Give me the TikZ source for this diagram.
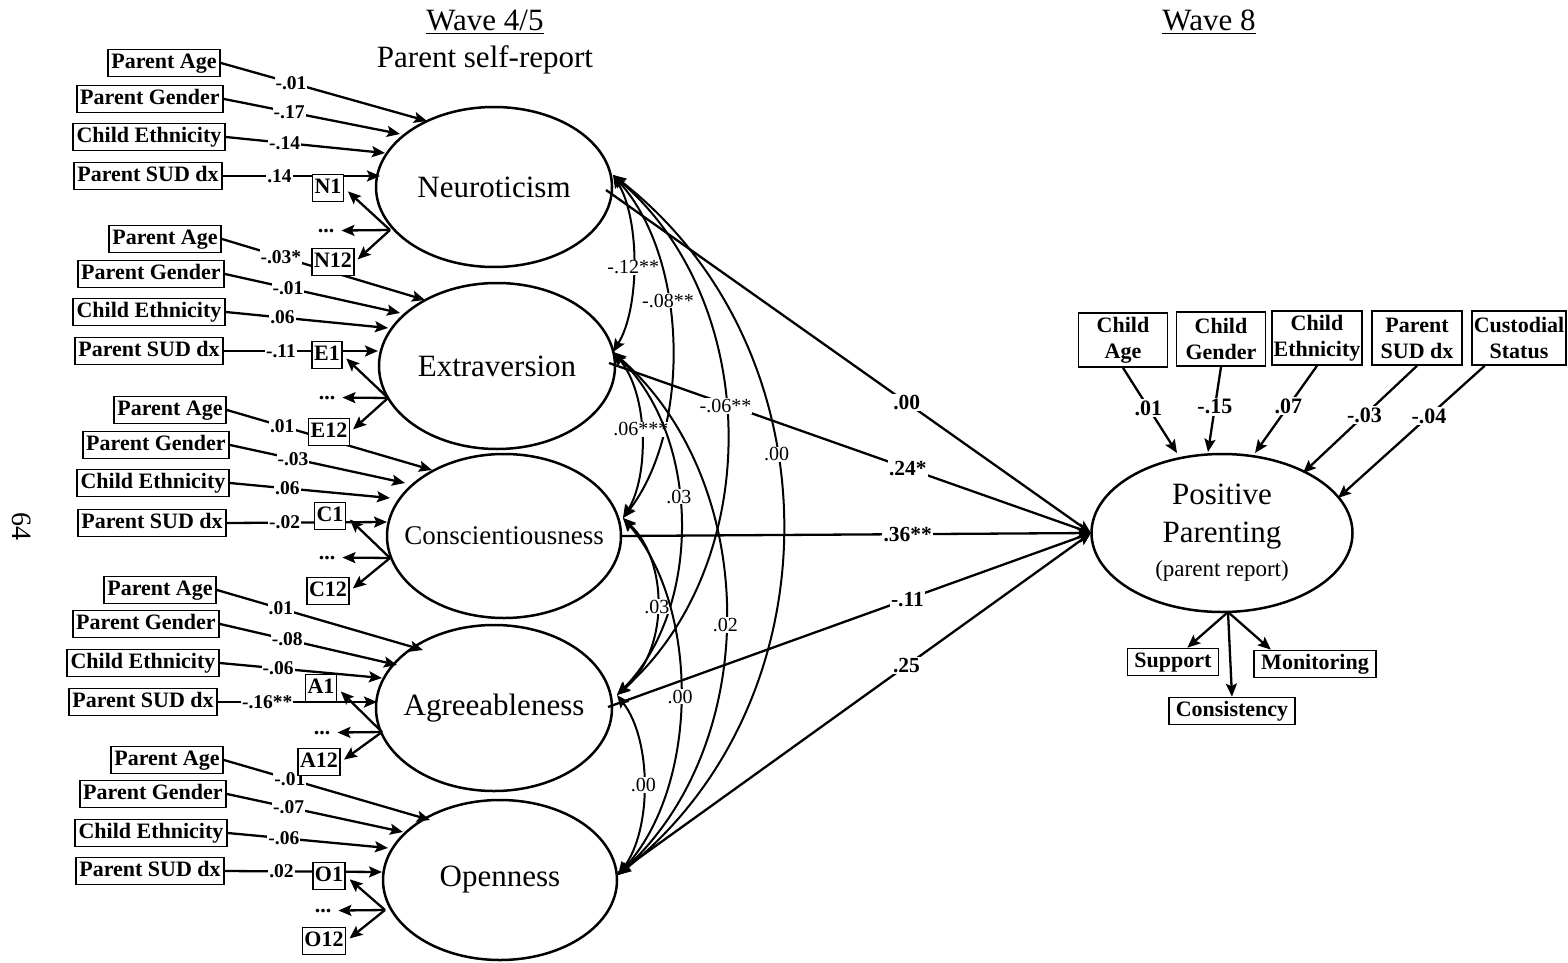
\documentclass[tikz,border=0pt]{standalone}
\usepackage{fontspec}
\setmainfont{Liberation Serif}
\usetikzlibrary{arrows.meta,shapes.geometric}
\pgfdeclarelayer{background}
\pgfsetlayers{background,main}
\tikzset{
  arr/.style={line width=2.3pt, -{Stealth[length=13pt,width=11pt,inset=2.5pt]}},
  dar/.style={line width=2pt, {Stealth[length=13pt,width=11pt,inset=2.5pt]}-{Stealth[length=13pt,width=11pt,inset=2.5pt]}},
  lat/.style={ellipse, draw, line width=2.5pt, inner sep=0pt},
  box/.style={draw, line width=1.6pt, fill=white, font=\bfseries\fontsize{22}{26}\selectfont, inner xsep=3.5pt, inner ysep=1.8pt, text height=17pt, text depth=6.5pt},
  ind/.style={box, inner xsep=2pt},
  dots/.style={font=\bfseries\fontsize{22}{26}\selectfont, inner xsep=7pt, inner ysep=0pt, anchor=base},
  rbox/.style={draw, line width=1.6pt, fill=white, font=\bfseries\fontsize{22}{26}\selectfont, align=center, minimum height=54pt, inner xsep=1.5pt, inner ysep=1pt},
  pbox/.style={box, inner xsep=7pt},
  coef/.style={font=\bfseries\fontsize{19.5}{21}\selectfont, fill=white, inner sep=1pt},
  corr/.style={font=\fontsize{20}{22}\selectfont, fill=white, inner sep=1pt},
  pcoef/.style={font=\bfseries\fontsize{21.5}{24}\selectfont, fill=white, inner sep=1.5pt},
  rcoef/.style={font=\bfseries\fontsize{22}{24}\selectfont, fill=white, inner sep=1.5pt},
  ttl/.style={font=\fontsize{31}{36}\selectfont, anchor=base},
  bigf/.style={font=\fontsize{31}{36}\selectfont},
}
\begin{document}
\begin{tikzpicture}[x=1pt,y=-1pt]
\useasboundingbox (0,0) rectangle (1568,963);

% titles
\node[ttl] (w45) at (485,31) {\underline{Wave 4/5}};
\node[ttl] (psr) at (485,68) {Parent self-report};
\node[ttl] (w8) at (1209,31) {\underline{Wave 8}};
\node[font=\fontsize{28}{30}\selectfont, rotate=-90] (pgno) at (22,526) {64};

% latent variables
\node[lat, bigf, minimum width=236pt, minimum height=160pt] (N) at (494,187) {\makebox[0pt]{Neuroticism}};
\node[lat, bigf, minimum width=236pt, minimum height=166pt] (E) at (497,366) {\makebox[0pt]{Extraversion}};
\node[lat, font=\fontsize{27}{32}\selectfont, minimum width=234pt, minimum height=164pt] (C) at (504,536) {\makebox[0pt]{Conscientiousness}};
\node[lat, bigf, minimum width=236pt, minimum height=166pt] (A) at (494,708) {\makebox[0pt]{Agreeableness}};
\node[lat, bigf, minimum width=234pt, minimum height=160pt] (O) at (500,880) {\makebox[0pt]{Openness}};
\node[lat, minimum width=261pt, minimum height=158pt, align=center, font=\fontsize{31}{38}\selectfont] (PP) at (1222,533)
  {Positive\\Parenting\\[-4pt]{\fontsize{23}{28}\selectfont (parent report)}};

% ---- covariate boxes, left ----
\node[box] (nA) at (164,63) {Parent Age};
\node[box] (nG) at (150,99) {Parent Gender};
\node[box] (nE) at (149,137) {Child Ethnicity};
\node[box] (nS) at (148,176) {Parent SUD dx};
\node[ind] (n1) at (328,188) {N1};
\node[dots] (nd) at (326,232) {...};
\node[ind] (n12) at (333,262) {N12};

\node[box] (eA) at (165,239) {Parent Age};
\node[box] (eG) at (151,274) {Parent Gender};
\node[box] (eE) at (149,312) {Child Ethnicity};
\node[box] (eS) at (149,351) {Parent SUD dx};
\node[ind] (e1) at (327,355) {E1};
\node[dots] (ed) at (327,399) {...};
\node[ind] (e12) at (329,432) {E12};

\node[box] (cA) at (170,410) {Parent Age};
\node[box] (cG) at (156,445) {Parent Gender};
\node[box] (cE) at (153,483) {Child Ethnicity};
\node[box] (cS) at (152,523) {Parent SUD dx};
\node[ind] (c1) at (330,516) {C1};
\node[dots] (cd) at (327,559) {...};
\node[ind] (c12) at (328,591) {C12};

\node[box] (aA) at (160,590) {Parent Age};
\node[box] (aG) at (146,624) {Parent Gender};
\node[box] (aE) at (143,663) {Child Ethnicity};
\node[box] (aS) at (143,702) {Parent SUD dx};
\node[ind] (a1) at (321,688) {A1};
\node[dots] (ad) at (322,734) {...};
\node[ind] (a12) at (319,762) {A12};

\node[box] (oA) at (167,760) {Parent Age};
\node[box] (oG) at (153,794) {Parent Gender};
\node[box] (oE) at (151,833) {Child Ethnicity};
\node[box] (oS) at (150,871) {Parent SUD dx};
\node[ind] (o1) at (329,876) {O1};
\node[dots] (od) at (323,912) {...};
\node[ind] (o12) at (324,941) {O12};

% ---- right covariates ----
\node[rbox, minimum width=89pt] (rCA) at (1123,340) {Child\\Age};
\node[rbox, minimum width=89pt] (rCG) at (1221,339) {Child\\Gender};
\node[rbox, minimum width=90pt] (rCE) at (1317,338) {Child\\Ethnicity};
\node[rbox, minimum width=90pt] (rPS) at (1417,338) {Parent\\SUD dx};
\node[rbox, minimum width=94pt] (rCS) at (1519,338) {Custodial\\Status};

\node[pbox] (sup) at (1173,662) {Support};
\node[pbox] (mon) at (1315,664) {Monitoring};
\node[pbox] (cons) at (1232,711) {Consistency};

% ---- named points ----
\coordinate (tnA) at (427,121); \coordinate (tnG) at (400,134); \coordinate (tnE) at (385,153); \coordinate (tnS) at (380,176);
\coordinate (teA) at (425,300); \coordinate (teG) at (400,313); \coordinate (teE) at (388,328); \coordinate (teS) at (378,351);
\coordinate (tcA) at (432,470); \coordinate (tcG) at (405,483); \coordinate (tcE) at (390,498); \coordinate (tcS) at (387,522);
\coordinate (taA) at (423,650); \coordinate (taG) at (397,665); \coordinate (taE) at (382,678); \coordinate (taS) at (377,702);
\coordinate (toA) at (430,820); \coordinate (toG) at (403,832); \coordinate (toE) at (388,848); \coordinate (toS) at (382,872);
\coordinate (qN) at (390,230); \coordinate (qE) at (388,398); \coordinate (qC) at (390,558); \coordinate (qA) at (382,732); \coordinate (qO) at (385,910);
\coordinate (pN) at (613,175); \coordinate (pE) at (613,352); \coordinate (pC) at (623,518); \coordinate (pA) at (617,695); \coordinate (pO) at (618,875);
\coordinate (sN) at (606,190); \coordinate (sE) at (609,363); \coordinate (sC) at (621,536); \coordinate (sA) at (608,707); \coordinate (sO) at (618,873);
\coordinate (pL) at (1091,533);
\coordinate (tCA) at (1177,453); \coordinate (tCG) at (1208,452); \coordinate (tCE) at (1255,453); \coordinate (tPS) at (1303,473); \coordinate (tCS) at (1338,498);
\coordinate (ppB) at (1228,612);

\begin{pgfonlayer}{background}
% N
\draw[arr] (nA.east) -- node[coef,pos=.34]{-.01} (tnA);
\draw[arr] (nG.east) -- node[coef,pos=.37]{-.17} (tnG);
\draw[arr] (nE.east) -- node[coef,pos=.37]{-.14} (tnE);
\draw[arr] (nS.east) -- node[coef,pos=.36]{.14} (tnS);
% E
\draw[arr] (eA.east) -- node[coef,pos=.29]{-.03*} (teA);
\draw[arr] (eG.east) -- node[coef,pos=.36]{-.01} (teG);
\draw[arr] (eE.east) -- node[coef,pos=.35]{.06} (teE);
\draw[arr] (eS.east) -- node[coef,pos=.37]{-.11} (teS);
% C
\draw[arr] (cA.east) -- node[coef,pos=.27]{.01} (tcA);
\draw[arr] (cG.east) -- node[coef,pos=.36]{-.03} (tcG);
\draw[arr] (cE.east) -- node[coef,pos=.36]{.06} (tcE);
\draw[arr] (cS.east) -- node[coef,pos=.36]{-.02} (tcS);
% A
\draw[arr] (aA.east) -- node[coef,pos=.31]{.01} (taA);
\draw[arr] (aG.east) -- node[coef,pos=.38]{-.08} (taG);
\draw[arr] (aE.east) -- node[coef,pos=.36]{-.06} (taE);
\draw[arr] (aS.east) -- node[coef,pos=.31]{-.16**} (taS);
% O
\draw[arr] (oA.east) -- node[coef,pos=.32]{-.01} (toA);
\draw[arr] (oG.east) -- node[coef,pos=.35]{-.07} (toG);
\draw[arr] (oE.east) -- node[coef,pos=.35]{-.06} (toE);
\draw[arr] (oS.east) -- node[coef,pos=.36]{.02} (toS);
\end{pgfonlayer}

% indicators
\foreach \q/\a/\b/\c in {qN/n1/nd/n12, qE/e1/ed/e12, qC/c1/cd/c12, qA/a1/ad/a12, qO/o1/od/o12}{
  \draw[arr, shorten >=5pt] (\q) -- (\a.east);
  \draw[arr] (\q) -- (\b.east);
  \draw[arr, shorten >=4pt] (\q) -- (\c.east);
}

% paths to positive parenting
\draw[arr] (sN) -- node[pcoef,pos=.62]{.00} (pL);
\draw[arr] (sE) -- node[pcoef,pos=.62]{.24*} (pL);
\draw[arr] (sC) -- node[pcoef,pos=.61]{.36**} (pL);
\draw[arr] (sA) -- node[pcoef,pos=.62]{-.11} (pL);
\draw[arr] (sO) -- node[pcoef,pos=.61]{.25} (pL);

% correlations
\draw[dar] (pN) .. controls (640,219) and (640,308) .. node[corr,pos=.52]{-.12**} (pE);
\draw[dar] (pN) .. controls (690,261) and (690,432) .. node[corr,pos=.38]{-.08**} (pC);
\draw[dar] (pN) .. controls (764,305) and (764,565) .. node[corr,pos=.45]{-.06**} (pA);
\draw[dar] (pN) .. controls (838,350) and (838,700) .. node[corr,pos=.41]{.00} (pO);
\draw[dar] (pE) .. controls (649,394) and (649,476) .. node[corr,pos=.47]{.06***} (pC);
\draw[dar] (pE) .. controls (702,438) and (702,609) .. node[corr,pos=.43]{.03} (pA);
\draw[dar] (pE) .. controls (762,483) and (762,744) .. node[corr,pos=.52]{.02} (pO);
\draw[dar] (pC) .. controls (669,562) and (669,651) .. node[corr,pos=.5]{.03} (pA);
\draw[dar] (pC) .. controls (700,607) and (700,786) .. node[corr,pos=.5]{.00} (pO);
\draw[dar] (pA) .. controls (652,740) and (652,830) .. node[corr,pos=.5]{.00} (pO);

% right covariates
\draw[arr] (rCA.south) -- node[rcoef,pos=.47]{.01} (tCA);
\draw[arr] (rCG.south) -- node[rcoef,pos=.47]{-.15} (tCG);
\draw[arr] (rCE.south) -- node[rcoef,pos=.46]{.07} (tCE);
\draw[arr] (rPS.south) -- node[rcoef,pos=.46]{-.03} (tPS);
\draw[arr] (rCS.-141) -- node[rcoef,pos=.38]{-.04} (tCS);

% PP indicators
\draw[arr] (ppB) -- (sup.45);
\draw[arr] (ppB) -- (cons.north);
\draw[arr] (ppB) -- (mon.162);
\end{tikzpicture}
\end{document}
